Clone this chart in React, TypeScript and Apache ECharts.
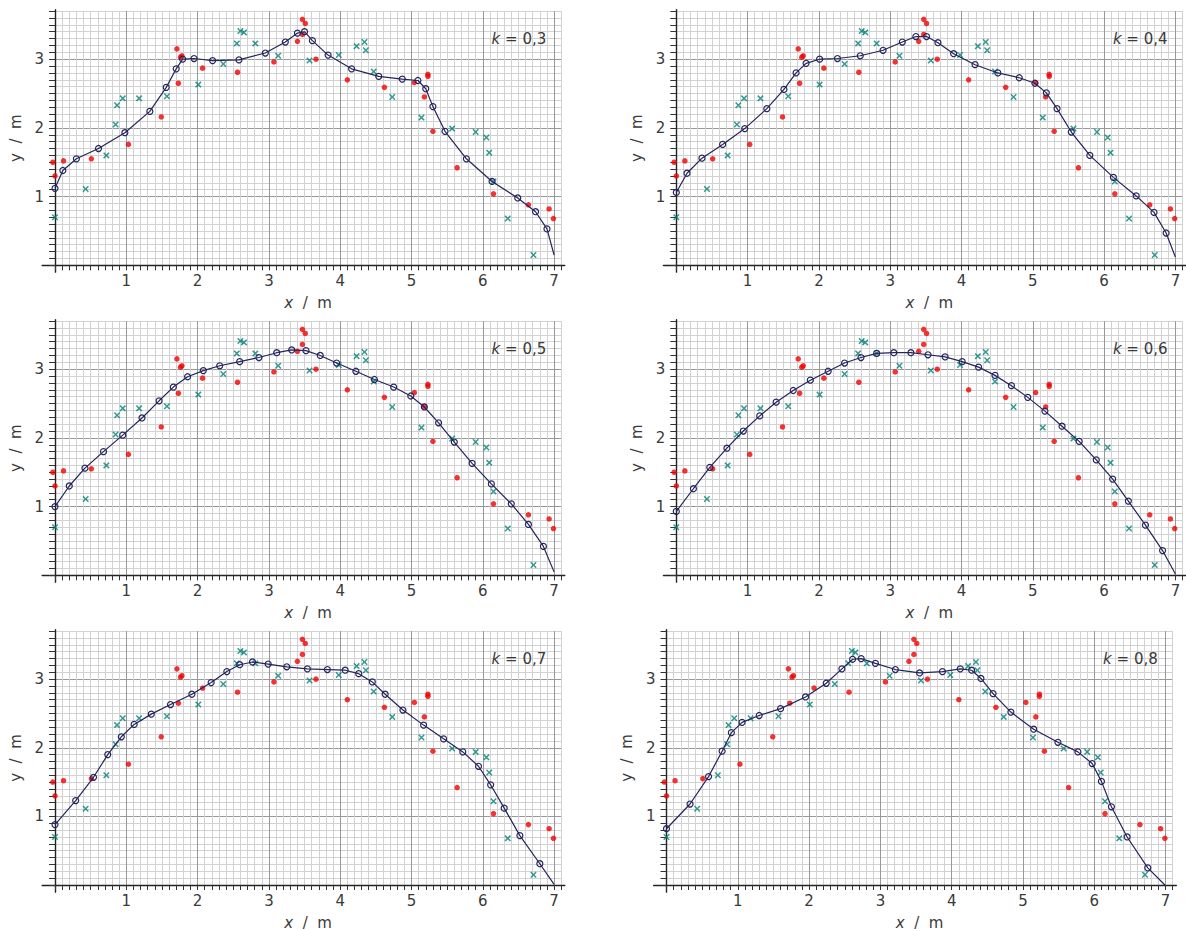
import React, { useEffect, useRef } from "react";
import * as echarts from "echarts";

// measured points (same in every panel)
const redPoints: number[][] = [
  [-0.03, 1.5], [0.0, 1.3], [0.12, 1.52], [0.51, 1.55], [1.03, 1.76], [1.49, 2.16],
  [1.71, 3.15], [1.73, 2.65], [1.76, 3.03], [1.78, 3.05], [2.07, 2.87], [2.56, 2.81],
  [3.07, 2.96], [3.4, 3.26], [3.47, 3.58], [3.51, 3.52], [3.47, 3.36], [3.66, 3.0],
  [4.1, 2.7], [4.62, 2.59], [5.04, 2.66], [5.23, 2.78], [5.23, 2.75], [5.18, 2.45],
  [5.3, 1.95], [5.64, 1.42], [6.15, 1.04], [6.64, 0.88], [6.93, 0.82], [6.99, 0.68],
];
const tealPoints: number[][] = [
  [0.0, 0.7], [0.43, 1.11], [0.72, 1.6], [0.85, 2.05], [0.87, 2.33], [0.95, 2.43],
  [1.18, 2.43], [1.57, 2.46], [2.01, 2.63], [2.36, 2.93], [2.55, 3.23], [2.6, 3.41],
  [2.65, 3.39], [2.81, 3.23], [3.13, 3.05], [3.57, 2.98], [3.98, 3.06], [4.23, 3.19],
  [4.34, 3.25], [4.36, 3.13], [4.47, 2.82], [4.73, 2.45], [5.14, 2.15], [5.57, 1.99],
  [5.9, 1.94], [6.05, 1.86], [6.09, 1.64], [6.15, 1.22], [6.35, 0.68], [6.71, 0.15],
];

// smoothed curves for each k
const fitK03: number[][] = [
  [0, 1.12], [0.11, 1.38], [0.3, 1.55], [0.61, 1.7], [0.98, 1.93], [1.33, 2.24], [1.56, 2.59],
  [1.7, 2.86], [1.79, 3.0], [1.95, 3.01], [2.21, 2.98], [2.58, 2.99], [2.95, 3.09], [3.23, 3.25],
  [3.4, 3.38], [3.5, 3.4], [3.61, 3.27], [3.83, 3.06], [4.16, 2.86], [4.54, 2.75], [4.87, 2.71],
  [5.09, 2.69], [5.2, 2.57], [5.3, 2.31], [5.47, 1.95], [5.77, 1.55], [6.13, 1.22], [6.49, 0.98],
  [6.74, 0.78], [6.9, 0.53], [7.0, 0.15],
];
const fitK04: number[][] = [
  [0, 1.06], [0.15, 1.34], [0.36, 1.56], [0.65, 1.76], [0.96, 1.99], [1.27, 2.28], [1.51, 2.56],
  [1.68, 2.8], [1.82, 2.94], [2.01, 3.0], [2.26, 3.01], [2.58, 3.05], [2.9, 3.13], [3.17, 3.25],
  [3.36, 3.33], [3.51, 3.33], [3.67, 3.24], [3.89, 3.08], [4.19, 2.92], [4.51, 2.8], [4.81, 2.73],
  [5.03, 2.65], [5.19, 2.51], [5.34, 2.28], [5.54, 1.94], [5.8, 1.6], [6.13, 1.28], [6.45, 1.01],
  [6.7, 0.77], [6.87, 0.47], [7.0, 0.12],
];
const fitK05: number[][] = [
  [0, 1.0], [0.2, 1.3], [0.42, 1.56], [0.68, 1.8], [0.95, 2.04], [1.22, 2.29], [1.46, 2.54],
  [1.66, 2.74], [1.86, 2.89], [2.08, 2.98], [2.31, 3.05], [2.59, 3.11], [2.86, 3.17], [3.11, 3.24],
  [3.32, 3.28], [3.52, 3.27], [3.72, 3.2], [3.95, 3.09], [4.22, 2.97], [4.48, 2.85], [4.75, 2.74],
  [4.99, 2.61], [5.18, 2.45], [5.38, 2.22], [5.6, 1.94], [5.85, 1.63], [6.12, 1.33], [6.4, 1.04],
  [6.64, 0.74], [6.85, 0.42], [7.0, 0.05],
];
const fitK06: number[][] = [
  [0, 0.93], [0.24, 1.26], [0.47, 1.57], [0.71, 1.85], [0.94, 2.1], [1.17, 2.32], [1.4, 2.52],
  [1.64, 2.69], [1.88, 2.84], [2.13, 2.97], [2.36, 3.09], [2.59, 3.17], [2.81, 3.23], [3.05, 3.24],
  [3.29, 3.24], [3.53, 3.21], [3.77, 3.18], [4.01, 3.11], [4.24, 3.03], [4.47, 2.91], [4.7, 2.76],
  [4.93, 2.59], [5.17, 2.39], [5.41, 2.17], [5.65, 1.95], [5.89, 1.68], [6.12, 1.4], [6.34, 1.08],
  [6.58, 0.73], [6.82, 0.36], [7.0, 0.02],
];
const fitK07: number[][] = [
  [0, 0.88], [0.29, 1.23], [0.54, 1.57], [0.74, 1.9], [0.93, 2.16], [1.11, 2.34], [1.35, 2.49],
  [1.62, 2.63], [1.92, 2.78], [2.19, 2.95], [2.41, 3.11], [2.59, 3.21], [2.77, 3.25], [2.99, 3.22],
  [3.25, 3.18], [3.54, 3.15], [3.82, 3.14], [4.07, 3.13], [4.26, 3.08], [4.45, 2.96], [4.63, 2.78],
  [4.88, 2.55], [5.17, 2.33], [5.45, 2.13], [5.72, 1.94], [5.94, 1.73], [6.11, 1.46], [6.3, 1.12],
  [6.52, 0.72], [6.8, 0.31], [7.0, 0.01],
];
const fitK08: number[][] = [
  [0, 0.82], [0.33, 1.18], [0.59, 1.58], [0.78, 1.95], [0.91, 2.22], [1.06, 2.37], [1.3, 2.47],
  [1.6, 2.57], [1.95, 2.74], [2.24, 2.94], [2.46, 3.15], [2.61, 3.29], [2.73, 3.3], [2.93, 3.23],
  [3.21, 3.14], [3.55, 3.09], [3.87, 3.11], [4.12, 3.15], [4.28, 3.13], [4.41, 3.01], [4.58, 2.79],
  [4.83, 2.52], [5.15, 2.27], [5.49, 2.08], [5.77, 1.94], [5.97, 1.77], [6.1, 1.51], [6.24, 1.14],
  [6.46, 0.7], [6.75, 0.25], [6.99, 0.0],
];

const fits = [fitK03, fitK04, fitK05, fitK06, fitK07, fitK08];
const kLabels = ["0,3", "0,4", "0,5", "0,6", "0,7", "0,8"];
const xTickLabels = ["1", "2", "3", "4", "5", "6", "7"];
const yTickLabels = ["1", "2", "3"];

// layout (pixels)
const UX = 71.3;
const UY = 68.7;
const panels = [
  { x0: 55, y0: 265.3 },
  { x0: 676.3, y0: 265.3 },
  { x0: 55, y0: 575.3 },
  { x0: 676.3, y0: 575.3 },
  { x0: 55, y0: 885.3 },
  { x0: 666.5, y0: 885.3 },
];

const FONT = "DejaVu Sans";
const TXT = "#3a3a3a";
const MAJOR = "#989898";
const MINOR = "#d2d2d2";
const NAVY = "#24245e";
const RED = "#f20000";
const TEAL = "#008078";
const CROSS =
  "path://M0,1.6 L1.6,0 L5,3.4 L8.4,0 L10,1.6 L6.6,5 L10,8.4 L8.4,10 L5,6.6 L1.6,10 L0,8.4 L3.4,5 Z";

const gridColors = Array.from({ length: 10 }, (_, i) => (i === 0 ? MAJOR : MINOR));

function labelFor(list: string[]) {
  return (v: number) => {
    const r = Math.round(v);
    if (Math.abs(v - r) > 1e-6) return "";
    const s = String(r);
    return list.includes(s) ? s : "";
  };
}

const richName = {
  i: { fontStyle: "italic", fontFamily: FONT, fontSize: 15, color: TXT },
};

function buildOption() {
  const grid: any[] = [];
  const xAxis: any[] = [];
  const yAxis: any[] = [];
  const series: any[] = [];
  const graphic: any[] = [];

  panels.forEach((p, i) => {
    const a = 2 * i;
    const b = 2 * i + 1;
    grid.push({ left: p.x0, top: p.y0 - 3.7 * UY, width: 7.1 * UX, height: 3.7 * UY });
    grid.push({
      left: p.x0 - 0.18 * UX,
      top: p.y0 - 3.72 * UY,
      width: 7.33 * UX,
      height: 3.82 * UY,
    });

    xAxis.push({
      gridIndex: a,
      type: "value",
      min: 0,
      max: 7.1,
      interval: 0.1,
      axisLine: { show: false },
      axisTick: { show: true, length: 5, lineStyle: { color: "#333", width: 1 } },
      axisLabel: {
        formatter: labelFor(xTickLabels),
        fontFamily: FONT,
        fontSize: 15,
        color: TXT,
        margin: 8,
      },
      splitLine: { show: true, lineStyle: { color: gridColors, width: 1 } },
      name: "{i|x}  /  m",
      nameLocation: "middle",
      nameGap: 30,
      nameTextStyle: { fontFamily: FONT, fontSize: 15, color: TXT, rich: richName },
    });
    xAxis.push({
      gridIndex: b,
      type: "value",
      min: -0.18,
      max: 7.15,
      axisLine: { show: true, onZero: true, lineStyle: { color: "#222", width: 1.4 } },
      axisTick: { show: false },
      axisLabel: { show: false },
      splitLine: { show: false },
    });

    yAxis.push({
      gridIndex: a,
      type: "value",
      min: 0,
      max: 3.7,
      interval: 0.1,
      axisLine: { show: false },
      axisTick: { show: true, length: 6, lineStyle: { color: "#333", width: 1 } },
      axisLabel: {
        formatter: labelFor(yTickLabels),
        fontFamily: FONT,
        fontSize: 15,
        color: TXT,
        margin: 11,
      },
      splitLine: { show: true, lineStyle: { color: gridColors, width: 1 } },
      name: "y  /  m",
      nameLocation: "middle",
      nameGap: 32,
      nameTextStyle: { fontFamily: FONT, fontSize: 15, color: TXT },
    });
    yAxis.push({
      gridIndex: b,
      type: "value",
      min: -0.1,
      max: 3.72,
      axisLine: { show: true, onZero: true, lineStyle: { color: "#222", width: 1.4 } },
      axisTick: { show: false },
      axisLabel: { show: false },
      splitLine: { show: false },
    });

    series.push({
      type: "scatter",
      xAxisIndex: a,
      yAxisIndex: a,
      data: redPoints,
      symbol: "circle",
      symbolSize: 5.5,
      clip: false,
      itemStyle: { color: RED },
      z: 3,
    });
    series.push({
      type: "scatter",
      xAxisIndex: a,
      yAxisIndex: a,
      data: tealPoints,
      symbol: CROSS,
      symbolSize: 6.5,
      clip: false,
      itemStyle: { color: TEAL },
      z: 3,
    });
    const fit = fits[i];
    series.push({
      type: "line",
      xAxisIndex: a,
      yAxisIndex: a,
      data: fit.map((pt, j) => (j === fit.length - 1 ? { value: pt, symbol: "none" } : pt)),
      symbol: "circle",
      symbolSize: 6,
      showAllSymbol: true,
      clip: false,
      lineStyle: { color: NAVY, width: 1.2 },
      itemStyle: { color: "rgba(255,255,255,0)", borderColor: NAVY, borderWidth: 1.2 },
      z: 4,
    });

    graphic.push({
      type: "text",
      x: p.x0 + 6.89 * UX,
      y: p.y0 - 3.29 * UY,
      z: 10,
      style: {
        text: "{i|k} = " + kLabels[i],
        align: "right",
        verticalAlign: "middle",
        fontFamily: FONT,
        fontSize: 15,
        fill: TXT,
        rich: {
          i: { fontStyle: "italic", fontFamily: FONT, fontSize: 15, fill: TXT },
        },
      },
    });
  });

  return {
    animation: false,
    backgroundColor: "#ffffff",
    grid,
    xAxis,
    yAxis,
    series,
    graphic,
  };
}

export default function App() {
  const ref = useRef<HTMLDivElement>(null);
  useEffect(() => {
    document.body.style.margin = "0";
    if (!ref.current) return;
    const chart = echarts.init(ref.current, undefined, { renderer: "svg" });
    chart.setOption(buildOption() as any);
    return () => chart.dispose();
  }, []);
  return <div ref={ref} style={{ width: 1186, height: 931 }} />;
}
